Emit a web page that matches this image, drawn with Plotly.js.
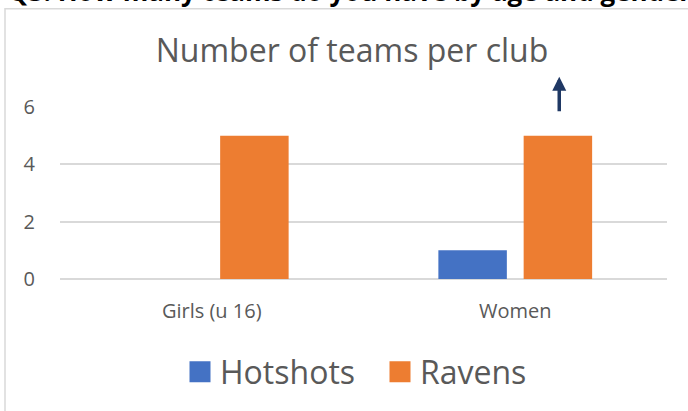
<!DOCTYPE html>
<html>
<head>
<meta charset="utf-8">
<script src="https://cdn.plot.ly/plotly-3.0.1.min.js"></script>
<style>
  html, body { margin: 0; padding: 0; background: #ffffff; }
  #chart { width: 688px; height: 411px; }
</style>
</head>
<body>
<div id="chart"></div>
<script>
// ---- Data ----
var categories = ["Girls (u 16)", "Women"];
var hotshots = [0, 1];
var ravens = [5, 5];
var seriesNames = ["Hotshots", "Ravens"];
var yTicks = [0, 2, 4, 6];
var chartTitle = "Number of teams per club";
var headerText = "Q3: How many teams do you have by age and gender?";

var FONT = "Open Sans, Lato, Liberation Sans, sans-serif";
var GREY = "#595959";

var traces = [
  {
    type: "bar", name: seriesNames[0], x: categories, y: hotshots,
    marker: { color: "#4472C4", line: { width: 0 } }, hoverinfo: "x+y+name"
  },
  {
    type: "bar", name: seriesNames[1], x: categories, y: ravens,
    marker: { color: "#ED7D31", line: { width: 0 } }, hoverinfo: "x+y+name"
  }
];

var layout = {
  width: 688, height: 411,
  margin: { l: 60, r: 21, t: 107, b: 132, pad: 0 },
  paper_bgcolor: "#ffffff", plot_bgcolor: "#ffffff",
  font: { family: FONT, color: GREY },
  barmode: "group",
  bargap: 0.438,
  bargroupgap: 0.197,
  title: {
    text: chartTitle,
    font: { family: FONT, size: 32, color: GREY },
    xref: "container", x: 352 / 688, xanchor: "center",
    yref: "container", y: 1 - 51 / 411, yanchor: "middle"
  },
  xaxis: {
    type: "category",
    showgrid: false, zeroline: false, showline: false,
    ticks: "outside", ticklen: 14, tickcolor: "rgba(0,0,0,0)",
    tickfont: { family: FONT, size: 20, color: GREY }
  },
  yaxis: {
    range: [0, 6],
    tickvals: yTicks,
    ticktext: yTicks.map(String),
    showgrid: true, gridcolor: "#D9D9D9", gridwidth: 1.8,
    zeroline: true, zerolinecolor: "#D9D9D9", zerolinewidth: 1.8,
    showline: false,
    ticks: "outside", ticklen: 20, tickcolor: "rgba(0,0,0,0)",
    tickfont: { family: FONT, size: 20, color: GREY }
  },
  showlegend: true,
  legend: {
    orientation: "h",
    xref: "container", x: 180 / 688, xanchor: "left",
    yref: "container", y: 1 - 372 / 411, yanchor: "middle",
    font: { family: FONT, size: 32, color: GREY },
    itemclick: false, itemdoubleclick: false,
    traceorder: "normal",
    itemwidth: 30,
    entrywidthmode: "pixels",
    entrywidth: 155
  },
  shapes: [
    {
      type: "rect", xref: "paper", yref: "paper",
      x0: (5 - 60) / 607, x1: 1.2,
      y0: -1.2, y1: (279.3 - 9) / 172,
      line: { color: "#D9D9D9", width: 1.5 }, fillcolor: "rgba(0,0,0,0)",
      layer: "below"
    }
  ],
  annotations: [
    {
      text: "<b>" + headerText + "</b>",
      xref: "paper", yref: "paper",
      x: (6 - 60) / 607, xanchor: "left",
      y: (279.3 - 11) / 172, yanchor: "bottom",
      showarrow: false,
      font: { family: FONT, size: 26, color: "#000000" }
    },
    {
      text: "",
      xref: "x", x: categories[1], xshift: 44,
      yref: "paper", y: (279.3 - 77) / 172,
      showarrow: true, ax: 0, ay: 36,
      arrowhead: 2, arrowsize: 0.8, arrowwidth: 3.5,
      arrowcolor: "#1F3864"
    }
  ]
};

Plotly.newPlot("chart", traces, layout, { staticPlot: true, displayModeBar: false }).then(function (gd) {
  // enlarge the legend swatches to match the reference's big squares
  var paths = gd.querySelectorAll(".legend .legendpoints path");
  paths.forEach(function (p) {
    var t = p.getAttribute("transform") || "";
    p.setAttribute("transform", t + " scale(1.75)");
  });
});
</script>
</body>
</html>
